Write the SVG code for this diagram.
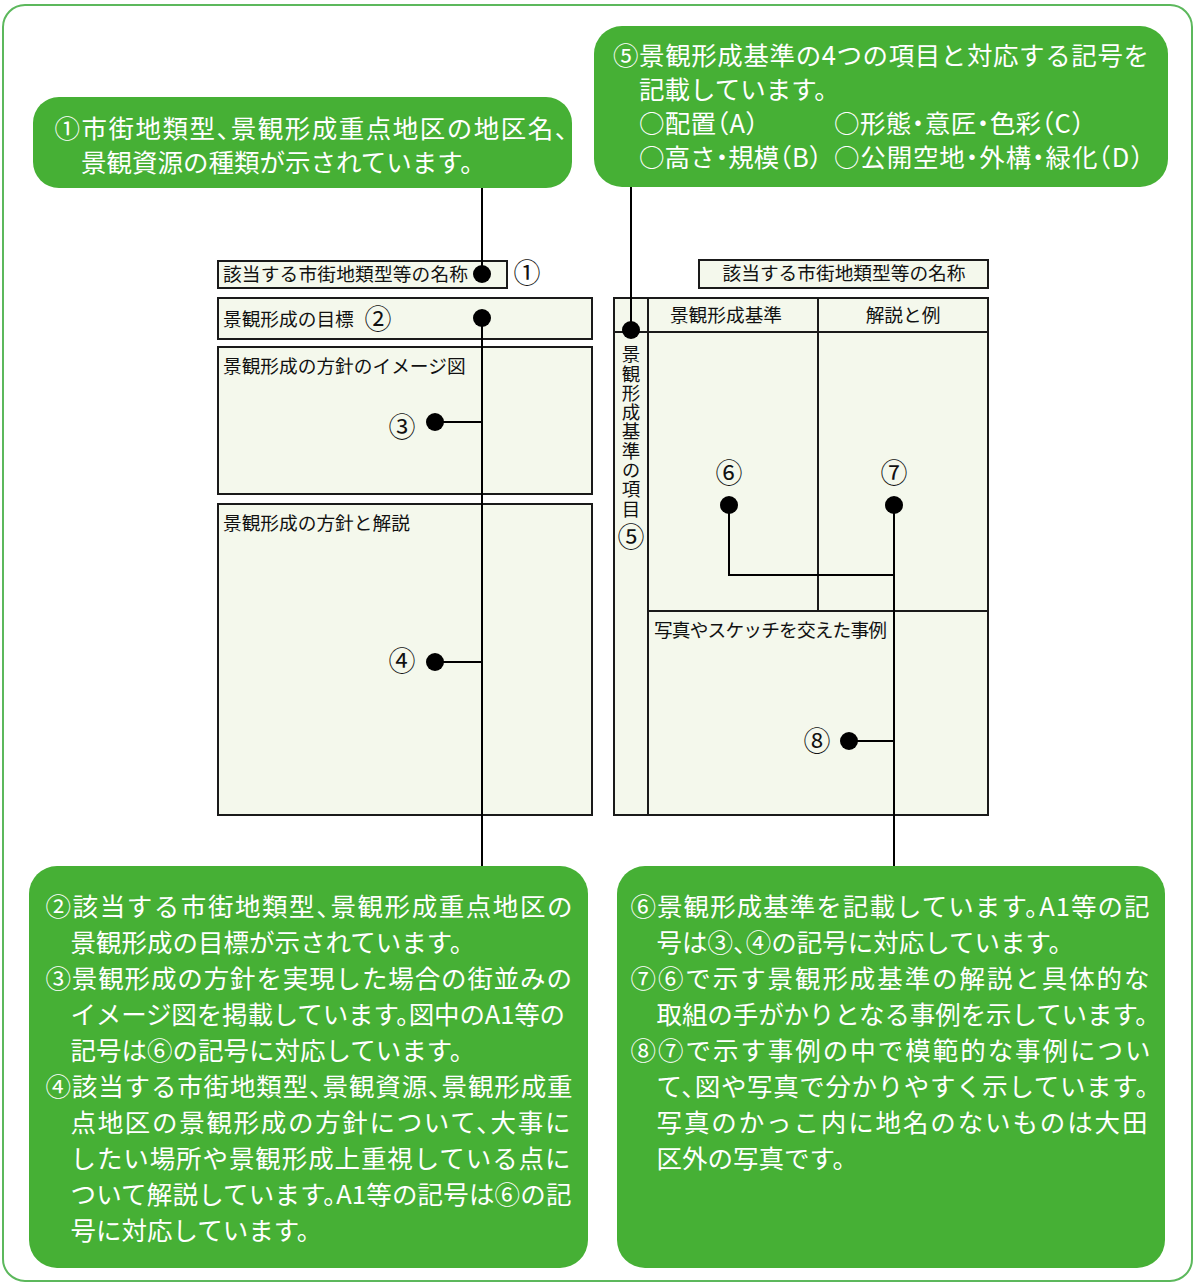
<svg xmlns="http://www.w3.org/2000/svg" width="1195" height="1283" viewBox="0 0 1195 1283">
<style>
.frame{fill:#fff;stroke:#5cb85c;stroke-width:2}
.call{fill:#46b035}
.ct{fill:#fff;font-family:"Noto Sans CJK JP","Noto Sans CJK SC",sans-serif;font-size:25.5px;font-feature-settings:"halt"}
.box{fill:#f4f8ec;stroke:#1a1a1a;stroke-width:2}
.ft{fill:#111;font-family:"Noto Sans CJK JP","Noto Sans CJK SC",sans-serif;font-size:18.7px}
.vt{fill:#111;font-family:"Noto Sans CJK JP","Noto Sans CJK SC",sans-serif;font-size:18.5px;writing-mode:vertical-rl;letter-spacing:0.8px}
.num{fill:#111;font-family:"Noto Sans CJK JP","Noto Sans CJK SC",sans-serif;font-size:27px;text-anchor:middle}
.dot{fill:#000}
.ln{stroke:#000;stroke-width:2;fill:none}
.tl{stroke:#1a1a1a;stroke-width:2;fill:none}
</style>
<rect class="frame" x="3" y="5" width="1189" height="1276" rx="22"/>

<g id="callout1">
<rect class="call" x="33" y="97" width="539" height="91" rx="26"/>
<text class="ct" x="54.5" y="137.5" textLength="513" lengthAdjust="spacing">①市街地類型、景観形成重点地区の地区名、</text>
<text class="ct" x="81" y="171.5">景観資源の種類が示されています。</text>
</g>

<g id="callout5">
<rect class="call" x="594" y="26" width="574" height="161" rx="28"/>
<text class="ct" x="613" y="64.5" textLength="536" lengthAdjust="spacing">⑤景観形成基準の4つの項目と対応する記号を</text>
<text class="ct" x="639" y="98.5">記載しています。</text>
<text class="ct" x="639" y="132.5" textLength="119" lengthAdjust="spacing">○配置（A）</text>
<text class="ct" x="834" y="132.5" textLength="250" lengthAdjust="spacing">○形態・意匠・色彩（C）</text>
<text class="ct" x="639" y="166.5">○高さ・規模（B）</text>
<text class="ct" x="834" y="166.5" textLength="309" lengthAdjust="spacing">○公開空地・外構・緑化（D）</text>
</g>

<g id="callout2">
<rect class="call" x="29" y="866" width="559" height="402" rx="28"/>
<text class="ct" x="45.5" y="915.5" textLength="527" lengthAdjust="spacing">②該当する市街地類型、景観形成重点地区の</text>
<text class="ct" x="70.5" y="951.5">景観形成の目標が示されています。</text>
<text class="ct" x="45.5" y="987.5" textLength="526.5" lengthAdjust="spacing">③景観形成の方針を実現した場合の街並みの</text>
<text class="ct" x="70.5" y="1023.5" textLength="494.5" lengthAdjust="spacing">イメージ図を掲載しています。図中のA1等の</text>
<text class="ct" x="70.5" y="1059.5">記号は⑥の記号に対応しています。</text>
<text class="ct" x="45.5" y="1095.5" textLength="527" lengthAdjust="spacing">④該当する市街地類型、景観資源、景観形成重</text>
<text class="ct" x="70.5" y="1131.5" textLength="500" lengthAdjust="spacing">点地区の景観形成の方針について、大事に</text>
<text class="ct" x="70.5" y="1167.5" textLength="500" lengthAdjust="spacing">したい場所や景観形成上重視している点に</text>
<text class="ct" x="70.5" y="1203.5" textLength="501" lengthAdjust="spacing">ついて解説しています。A1等の記号は⑥の記</text>
<text class="ct" x="70.5" y="1239.5">号に対応しています。</text>
</g>

<g id="callout6">
<rect class="call" x="617" y="866" width="548" height="402" rx="28"/>
<text class="ct" x="630.5" y="915.5" textLength="519" lengthAdjust="spacing">⑥景観形成基準を記載しています。A1等の記</text>
<text class="ct" x="656.5" y="951.5">号は③、④の記号に対応しています。</text>
<text class="ct" x="630.5" y="987.5" textLength="519" lengthAdjust="spacing">⑦⑥で示す景観形成基準の解説と具体的な</text>
<text class="ct" x="656.5" y="1023.5" textLength="491.5" lengthAdjust="spacing">取組の手がかりとなる事例を示しています。</text>
<text class="ct" x="630.5" y="1059.5" textLength="520" lengthAdjust="spacing">⑧⑦で示す事例の中で模範的な事例につい</text>
<text class="ct" x="656.5" y="1095.5" textLength="492" lengthAdjust="spacing">て、図や写真で分かりやすく示しています。</text>
<text class="ct" x="656.5" y="1131.5" textLength="491" lengthAdjust="spacing">写真のかっこ内に地名のないものは大田</text>
<text class="ct" x="656.5" y="1167.5">区外の写真です。</text>
</g>

<g id="left-form">
<g id="l-name">
<rect class="box" x="218" y="261" width="289" height="27"/>
<text class="ft" x="223" y="281" textLength="245" lengthAdjust="spacing">該当する市街地類型等の名称</text>
<text class="num" x="527" y="283">①</text>
</g>
<g id="l-goal">
<rect class="box" x="218" y="298" width="374" height="41"/>
<text class="ft" x="223" y="326">景観形成の目標</text>
<text class="num" x="378" y="329">②</text>
</g>
<g id="l-image">
<rect class="box" x="218" y="347" width="374" height="147"/>
<text class="ft" x="223" y="373">景観形成の方針のイメージ図</text>
<text class="num" x="402" y="437">③</text>
</g>
<g id="l-policy">
<rect class="box" x="218" y="504" width="374" height="311"/>
<text class="ft" x="223" y="530">景観形成の方針と解説</text>
<text class="num" x="402" y="671">④</text>
</g>
</g>

<g id="right-form">
<g id="r-name">
<rect class="box" x="699" y="260" width="289" height="28"/>
<text class="ft" x="844" y="280" text-anchor="middle">該当する市街地類型等の名称</text>
</g>
<g id="r-table">
<rect class="box" x="614" y="298" width="374" height="517"/>
<path class="tl" d="M648 298V815M614 332H988M818 298V611M648 611H988"/>
<text class="ft" x="726" y="322" text-anchor="middle">景観形成基準</text>
<text class="ft" x="903" y="322" text-anchor="middle">解説と例</text>
<text class="vt" x="631" y="345">景観形成基準の項目</text>
<text class="num" x="631" y="547">⑤</text>
<text class="num" x="729" y="483">⑥</text>
<text class="num" x="894" y="483">⑦</text>
<text class="ft" x="654" y="637" textLength="233" lengthAdjust="spacing">写真やスケッチを交えた事例</text>
<text class="num" x="817" y="751">⑧</text>
</g>
</g>

<g id="connectors">
<path class="ln" d="M482 188V274M482 318V866M435 422H482M435 662H482M631 187V330M729 505V575H894M894 505V866M849 741H894"/>
<circle class="dot" cx="482" cy="274" r="9"/>
<circle class="dot" cx="482" cy="318" r="9"/>
<circle class="dot" cx="435" cy="422" r="9"/>
<circle class="dot" cx="435" cy="662" r="9"/>
<circle class="dot" cx="631" cy="330" r="9"/>
<circle class="dot" cx="729" cy="505" r="9"/>
<circle class="dot" cx="894" cy="505" r="9"/>
<circle class="dot" cx="849" cy="741" r="9"/>
</g>
</svg>
